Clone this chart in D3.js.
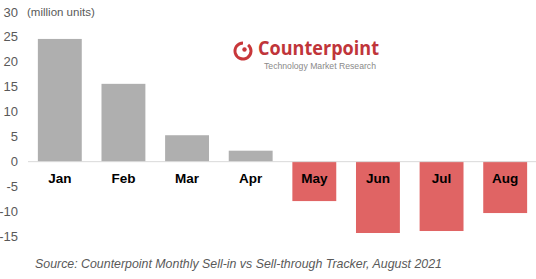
<!DOCTYPE html>
<meta charset="utf-8">
<script src="https://cdn.jsdelivr.net/npm/d3@7"></script>
<style>
  body { margin: 0; background: #fff; }
  text { font-family: "Liberation Sans", Arial, sans-serif; }
  .tick-label { fill: #595959; font-size: 13px; }
  .cat-label { fill: #000; font-size: 13.5px; font-weight: 700; }
</style>
<body>
<script>

  var months = ["Jan", "Feb", "Mar", "Apr", "May", "Jun", "Jul", "Aug"];
  var values = [24.6, 15.6, 5.3, 2.2, -7.9, -14.3, -13.9, -10.3];
  var yTicks = [30, 25, 20, 15, 10, 5, 0, -5, -10, -15];

  var width = 536,
      height = 279;

  var svg = d3.select("body").append("svg")
      .attr("width", width)
      .attr("height", height);

  var x = d3.scaleBand()
      .domain(months)
      .range([28, 537])
      .paddingInner(0.31)
      .paddingOuter(0.155);

  var y = d3.scaleLinear()
      .domain([-15, 30])
      .range([236.5, 12]);

  // y tick labels (no axis line in the original)
  svg.append("g")
    .selectAll("text")
    .data(yTicks)
    .enter()
    .append("text")
      .attr("class", "tick-label")
      .attr("x", 18)
      .attr("y", function(d) { return y(d); })
      .attr("dy", "0.35em")
      .attr("text-anchor", "end")
      .text(function(d) { return d; });

  svg.append("text")
      .attr("class", "tick-label")
      .attr("x", 27)
      .attr("y", 16)
      .style("font-size", "11.5px")
      .text("(million units)");

  // bars
  svg.append("g")
    .selectAll("rect")
    .data(values)
    .enter()
    .append("rect")
      .attr("x", function(d, i) { return x(months[i]); })
      .attr("width", x.bandwidth())
      .attr("y", function(d) { return d >= 0 ? y(d) : y(0); })
      .attr("height", function(d) { return Math.abs(y(d) - y(0)); })
      .style("fill", function(d) { return d >= 0 ? "#afafaf" : "#e06464"; });

  // zero line
  svg.append("line")
      .attr("x1", 28)
      .attr("x2", width)
      .attr("y1", y(0))
      .attr("y2", y(0))
      .style("stroke", "#d9d9d9")
      .style("stroke-width", 1);

  // month labels
  svg.append("g")
    .selectAll("text")
    .data(months)
    .enter()
    .append("text")
      .attr("class", "cat-label")
      .attr("x", function(d) { return x(d) + x.bandwidth() / 2; })
      .attr("y", y(0) + 21)
      .attr("text-anchor", "middle")
      .text(function(d) { return d; });

  // logo
  var logo = svg.append("g").attr("transform", "translate(243,51)");
  var ring = d3.arc()
      .innerRadius(6.5)
      .outerRadius(9.5)
      .startAngle(Math.PI * 0.22)
      .endAngle(Math.PI * 2);
  logo.append("path")
      .attr("d", ring())
      .style("fill", "#c8373a");
  logo.append("circle")
      .attr("cx", 1.5)
      .attr("cy", -1.5)
      .attr("r", 2.2)
      .style("fill", "#c8373a");

  svg.append("text")
      .attr("x", 258)
      .attr("y", 55)
      .attr("textLength", 121)
      .attr("lengthAdjust", "spacingAndGlyphs")
      .style("font-family", "'Open Sans', sans-serif")
      .style("font-weight", 700)
      .style("font-size", "19px")
      .style("fill", "#c0353a")
      .text("Counterpoint");

  svg.append("text")
      .attr("x", 264)
      .attr("y", 69.3)
      .attr("textLength", 112)
      .attr("lengthAdjust", "spacingAndGlyphs")
      .style("font-size", "9.5px")
      .style("fill", "#8a8a8a")
      .text("Technology Market Research");

  // source note
  svg.append("text")
      .attr("x", 35)
      .attr("y", 268)
      .attr("textLength", 407)
      .attr("lengthAdjust", "spacingAndGlyphs")
      .style("font-size", "13.5px")
      .style("font-style", "italic")
      .style("fill", "#595959")
      .text("Source: Counterpoint Monthly Sell-in vs Sell-through Tracker, August 2021");

</script>
</body>
